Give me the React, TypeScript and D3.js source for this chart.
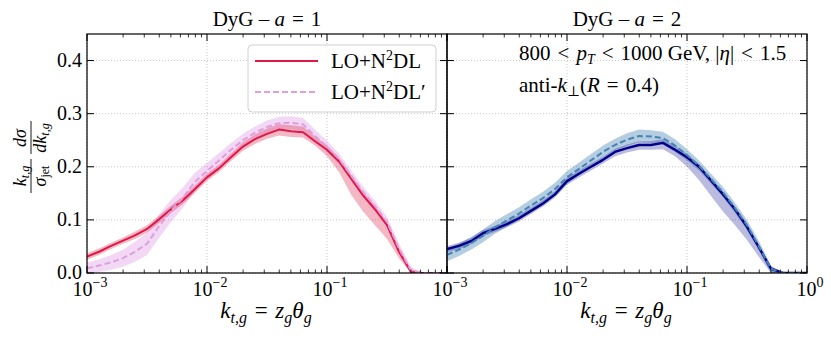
import React from 'react';
import * as d3 from 'd3';

// log10 of k_t,g bin positions
const logKt = [-3.0, -2.9, -2.8, -2.7, -2.6, -2.5, -2.4, -2.3, -2.2, -2.1, -2.0, -1.9, -1.8, -1.7, -1.6, -1.5, -1.4, -1.3, -1.2, -1.1, -1.0, -0.9, -0.8, -0.7, -0.6, -0.5, -0.4, -0.3, -0.2, -0.1, 0.0];

// DyG a = 1, LO+N2DL
const a1Line = [0.031, 0.040, 0.051, 0.061, 0.071, 0.083, 0.101, 0.120, 0.137, 0.158, 0.180, 0.197, 0.218, 0.238, 0.252, 0.262, 0.270, 0.267, 0.265, 0.248, 0.232, 0.210, 0.178, 0.146, 0.120, 0.090, 0.040, 0.002, 0, 0, 0];
const a1Hi = [0.037, 0.046, 0.057, 0.067, 0.078, 0.090, 0.108, 0.127, 0.144, 0.165, 0.187, 0.204, 0.225, 0.246, 0.261, 0.272, 0.280, 0.278, 0.276, 0.257, 0.240, 0.217, 0.185, 0.153, 0.127, 0.096, 0.046, 0.007, 0, 0, 0];
const a1Lo = [0.025, 0.034, 0.045, 0.055, 0.064, 0.076, 0.094, 0.113, 0.130, 0.151, 0.173, 0.190, 0.211, 0.230, 0.243, 0.253, 0.259, 0.256, 0.255, 0.240, 0.220, 0.190, 0.148, 0.116, 0.090, 0.064, 0.028, 0, 0, 0, 0];
// DyG a = 1, LO+N2DL'
const a1pLine = [0.009, 0.014, 0.020, 0.028, 0.040, 0.055, 0.088, 0.117, 0.142, 0.172, 0.192, 0.212, 0.232, 0.250, 0.264, 0.275, 0.282, 0.283, 0.280, 0.258, 0.238, 0.215, 0.184, 0.153, 0.126, 0.096, 0.046, 0.005, 0, 0, 0];
const a1pHi = [0.020, 0.026, 0.034, 0.044, 0.059, 0.076, 0.110, 0.138, 0.161, 0.189, 0.207, 0.226, 0.245, 0.262, 0.276, 0.287, 0.294, 0.295, 0.292, 0.270, 0.249, 0.225, 0.194, 0.163, 0.136, 0.106, 0.056, 0.012, 0, 0, 0];
const a1pLo = [0, 0.002, 0.006, 0.012, 0.021, 0.034, 0.066, 0.096, 0.123, 0.155, 0.177, 0.198, 0.219, 0.238, 0.252, 0.263, 0.270, 0.271, 0.268, 0.246, 0.227, 0.205, 0.174, 0.143, 0.116, 0.086, 0.036, 0, 0, 0, 0];

// DyG a = 2, LO+N2DL
const a2Line = [0.045, 0.051, 0.060, 0.075, 0.083, 0.092, 0.103, 0.117, 0.131, 0.148, 0.173, 0.187, 0.200, 0.213, 0.228, 0.235, 0.241, 0.241, 0.245, 0.232, 0.218, 0.200, 0.174, 0.148, 0.120, 0.087, 0.048, 0.008, 0, 0, 0];
const a2Hi = [0.051, 0.057, 0.066, 0.081, 0.089, 0.098, 0.109, 0.123, 0.137, 0.154, 0.179, 0.193, 0.206, 0.219, 0.234, 0.242, 0.248, 0.248, 0.252, 0.239, 0.224, 0.205, 0.179, 0.153, 0.124, 0.091, 0.052, 0.012, 0, 0, 0];
const a2Lo = [0.039, 0.045, 0.054, 0.069, 0.077, 0.086, 0.097, 0.111, 0.125, 0.142, 0.166, 0.180, 0.193, 0.206, 0.220, 0.227, 0.232, 0.232, 0.233, 0.220, 0.200, 0.175, 0.145, 0.116, 0.090, 0.062, 0.030, 0, 0, 0, 0];
// DyG a = 2, LO+N2DL'
const a2pLine = [0.034, 0.044, 0.056, 0.070, 0.086, 0.099, 0.112, 0.127, 0.141, 0.158, 0.180, 0.196, 0.212, 0.228, 0.241, 0.251, 0.258, 0.257, 0.254, 0.240, 0.222, 0.202, 0.177, 0.152, 0.122, 0.090, 0.050, 0.008, 0, 0, 0];
const a2pHi = [0.046, 0.056, 0.068, 0.082, 0.098, 0.111, 0.124, 0.139, 0.153, 0.170, 0.192, 0.208, 0.224, 0.240, 0.253, 0.263, 0.270, 0.269, 0.266, 0.252, 0.233, 0.212, 0.187, 0.162, 0.132, 0.100, 0.060, 0.014, 0, 0, 0];
const a2pLo = [0.022, 0.032, 0.044, 0.058, 0.074, 0.087, 0.100, 0.115, 0.129, 0.146, 0.168, 0.184, 0.200, 0.216, 0.229, 0.239, 0.246, 0.245, 0.242, 0.228, 0.212, 0.193, 0.168, 0.143, 0.113, 0.081, 0.042, 0, 0, 0, 0];

const xDomain = [1e-3, 1];
const yDomain = [0, 0.45];
const xTickExps = ['−3', '−2', '−1', '0'];

const FONT = "'Liberation Serif', 'DejaVu Serif', serif";
const TOP = 34;
const BOTTOM = 273;
const PW = 360;
const SP = '\u2004'; // a bit wider than a normal space, like TeX around relations

type Series = { line: number[]; lo: number[]; hi: number[]; color: string; fill: string; fillOpacity: number; dashed: boolean; width: number };

const panelA: Series[] = [
  { line: a1pLine, lo: a1pLo, hi: a1pHi, color: '#dda0dd', fill: '#da8fe0', fillOpacity: 0.35, dashed: true, width: 2 },
  { line: a1Line, lo: a1Lo, hi: a1Hi, color: '#e0184a', fill: '#dc143c', fillOpacity: 0.3, dashed: false, width: 2 },
];
const panelB: Series[] = [
  { line: a2pLine, lo: a2pLo, hi: a2pHi, color: '#4682b4', fill: '#4682b4', fillOpacity: 0.4, dashed: true, width: 2 },
  { line: a2Line, lo: a2Lo, hi: a2Hi, color: '#00008b', fill: '#2a2a9a', fillOpacity: 0.32, dashed: false, width: 2.4 },
];

function Panel({ x0, idx, title, series, showY, lastXLabel, children }: { x0: number; idx: number; title: string; series: Series[]; showY: boolean; lastXLabel: boolean; children?: React.ReactNode }) {
  const x = d3.scaleLog().domain(xDomain).range([x0, x0 + PW]);
  const y = d3.scaleLinear().domain(yDomain).range([BOTTOM, TOP]);
  const allX = x.ticks();
  const majors = allX.filter((t) => Math.abs(Math.log10(t) - Math.round(Math.log10(t))) < 1e-9);
  const minors = allX.filter((t) => !majors.includes(t));
  const yTicks = y.ticks(5);
  const pts = logKt.map((l) => Math.pow(10, l));
  // the left panel's 10^0 sits under the right panel's 10^-3
  const labelled = lastXLabel ? majors : majors.slice(0, -1);

  const area = (s: Series) =>
    d3.area<number>().x((_, i) => x(pts[i])).y0((_, i) => y(s.lo[i])).y1((_, i) => y(s.hi[i]))(s.line) || '';
  const line = (s: Series) => d3.line<number>().x((_, i) => x(pts[i])).y((d) => y(d))(s.line) || '';

  const lines = [...series].reverse();

  return (
    <g>
      <clipPath id={`clip${idx}`}>
        <rect x={x0} y={TOP} width={PW} height={BOTTOM - TOP} />
      </clipPath>
      {/* grid */}
      {majors.map((t) => (
        <line key={`gx${t}`} x1={x(t)} x2={x(t)} y1={TOP} y2={BOTTOM} stroke="#b8b8b8" strokeWidth={0.8} strokeDasharray="1,2" />
      ))}
      {yTicks.map((t) => (
        <line key={`gy${t}`} x1={x0} x2={x0 + PW} y1={y(t)} y2={y(t)} stroke="#b8b8b8" strokeWidth={0.8} strokeDasharray="1,2" />
      ))}
      <g clipPath={`url(#clip${idx})`}>
        {series.map((s, i) => (
          <path key={`b${i}`} d={area(s)} fill={s.fill} fillOpacity={s.fillOpacity} stroke="none" />
        ))}
        {lines.map((s, i) => (
          <path key={`l${i}`} d={line(s)} fill="none" stroke={s.color} strokeWidth={s.width} strokeDasharray={s.dashed ? '6,3' : undefined} strokeLinejoin="round" />
        ))}
      </g>
      {/* ticks, inward on all sides */}
      {majors.map((t) => (
        <g key={`mx${t}`}>
          <line x1={x(t)} x2={x(t)} y1={BOTTOM} y2={BOTTOM - 7} stroke="#000" strokeWidth={1} />
          <line x1={x(t)} x2={x(t)} y1={TOP} y2={TOP + 7} stroke="#000" strokeWidth={1} />
        </g>
      ))}
      {minors.map((t) => (
        <g key={`nx${t}`}>
          <line x1={x(t)} x2={x(t)} y1={BOTTOM} y2={BOTTOM - 3.5} stroke="#000" strokeWidth={0.8} />
          <line x1={x(t)} x2={x(t)} y1={TOP} y2={TOP + 3.5} stroke="#000" strokeWidth={0.8} />
        </g>
      ))}
      {yTicks.map((t) => (
        <g key={`my${t}`}>
          <line x1={x0} x2={x0 + 7} y1={y(t)} y2={y(t)} stroke="#000" strokeWidth={1} />
          <line x1={x0 + PW} x2={x0 + PW - 7} y1={y(t)} y2={y(t)} stroke="#000" strokeWidth={1} />
        </g>
      ))}
      <rect x={x0} y={TOP} width={PW} height={BOTTOM - TOP} fill="none" stroke="#000" strokeWidth={1.2} />
      {/* tick labels */}
      {labelled.map((t, i) => (
        <text key={`tx${t}`} x={x(t) + 3} y={296} textAnchor="middle" fontSize={20}>
          10<tspan fontSize={14} dy={-9}>{xTickExps[i]}</tspan>
        </text>
      ))}
      {showY &&
        yTicks.map((t) => (
          <text key={`ty${t}`} x={x0 - 5} y={y(t) - 1} dy="0.36em" textAnchor="end" fontSize={20}>
            {d3.format('.1f')(t)}
          </text>
        ))}
      <text x={x0 + PW / 2} y={26} textAnchor="middle" fontSize={21}>
        DyG – <tspan fontStyle="italic">a</tspan>{SP}={SP}{title}
      </text>
      <text x={x0 + PW / 2 - 1} y={318} textAnchor="middle" fontSize={23}>
        <tspan fontStyle="italic">k</tspan>
        <tspan fontSize={16} dy={5} fontStyle="italic">t,g</tspan>
        <tspan dy={-5}>{SP}={SP}</tspan>
        <tspan fontStyle="italic">z</tspan>
        <tspan fontSize={16} dy={5} fontStyle="italic">g</tspan>
        <tspan dy={-5} fontStyle="italic">θ</tspan>
        <tspan fontSize={16} dy={5} fontStyle="italic">g</tspan>
      </text>
      {children}
    </g>
  );
}

function Legend() {
  const items = [
    { label: 'DL', color: '#e0184a', dashed: false, y: 61 },
    { label: 'DL′', color: '#dda0dd', dashed: true, y: 92 },
  ];
  return (
    <g>
      <rect x={248} y={45} width={188} height={67} rx={4} fill="#fff" fillOpacity={0.85} stroke="#d0d0d0" strokeWidth={1} />
      {items.map((it) => (
        <g key={it.label}>
          <line x1={255} x2={318} y1={it.y} y2={it.y} stroke={it.color} strokeWidth={2.2} strokeDasharray={it.dashed ? '6,3' : undefined} />
          <text x={331} y={it.y + 7} fontSize={21}>
            LO+N<tspan fontSize={14} dy={-8}>2</tspan>
            <tspan dy={8}>{it.label}</tspan>
          </text>
        </g>
      ))}
    </g>
  );
}

function YLabel() {
  return (
    <g transform="translate(31,157) rotate(-90)" fontSize={18}>
      <text x={-19} y={-5} textAnchor="middle" fontStyle="italic">
        k<tspan fontSize={12} dy={3}>t,g</tspan>
      </text>
      <line x1={-36} x2={-2} y1={0} y2={0} stroke="#000" strokeWidth={0.9} />
      <text x={-19} y={15} textAnchor="middle">
        <tspan fontStyle="italic">σ</tspan>
        <tspan fontSize={12} dy={3}>jet</tspan>
      </text>
      <text x={19} y={-5} textAnchor="middle" fontStyle="italic">
        dσ
      </text>
      <line x1={3} x2={36} y1={0} y2={0} stroke="#000" strokeWidth={0.9} />
      <text x={19} y={15} textAnchor="middle" fontStyle="italic">
        dk<tspan fontSize={12} dy={3}>t,g</tspan>
      </text>
    </g>
  );
}

export default function App() {
  return (
    <svg width={831} height={339} viewBox="0 0 831 339" style={{ position: 'absolute', left: 0, top: 0, background: '#fff' }} fontFamily={FONT}>
      <rect width={831} height={339} fill="#fff" />
      <YLabel />
      <Panel x0={87} idx={0} title="1" series={panelA} showY lastXLabel={false}>
        <Legend />
      </Panel>
      <Panel x0={447} idx={1} title="2" series={panelB} showY={false} lastXLabel>
        <text x={519} y={60} fontSize={21}>
          800{SP}&lt;{SP}<tspan fontStyle="italic">p</tspan>
          <tspan fontSize={14} dy={4} fontStyle="italic">T</tspan>
          <tspan dy={-4}>{SP}&lt;{SP}1000 GeV, |</tspan>
          <tspan fontStyle="italic">η</tspan>|{SP}&lt;{SP}1.5
        </text>
        <text x={519} y={92} fontSize={21}>
          anti-<tspan fontStyle="italic">k</tspan>
          <tspan fontSize={14} dy={4}>⊥</tspan>
          <tspan dy={-4}>(</tspan>
          <tspan fontStyle="italic">R</tspan>{SP}={SP}0.4)
        </text>
      </Panel>
    </svg>
  );
}
